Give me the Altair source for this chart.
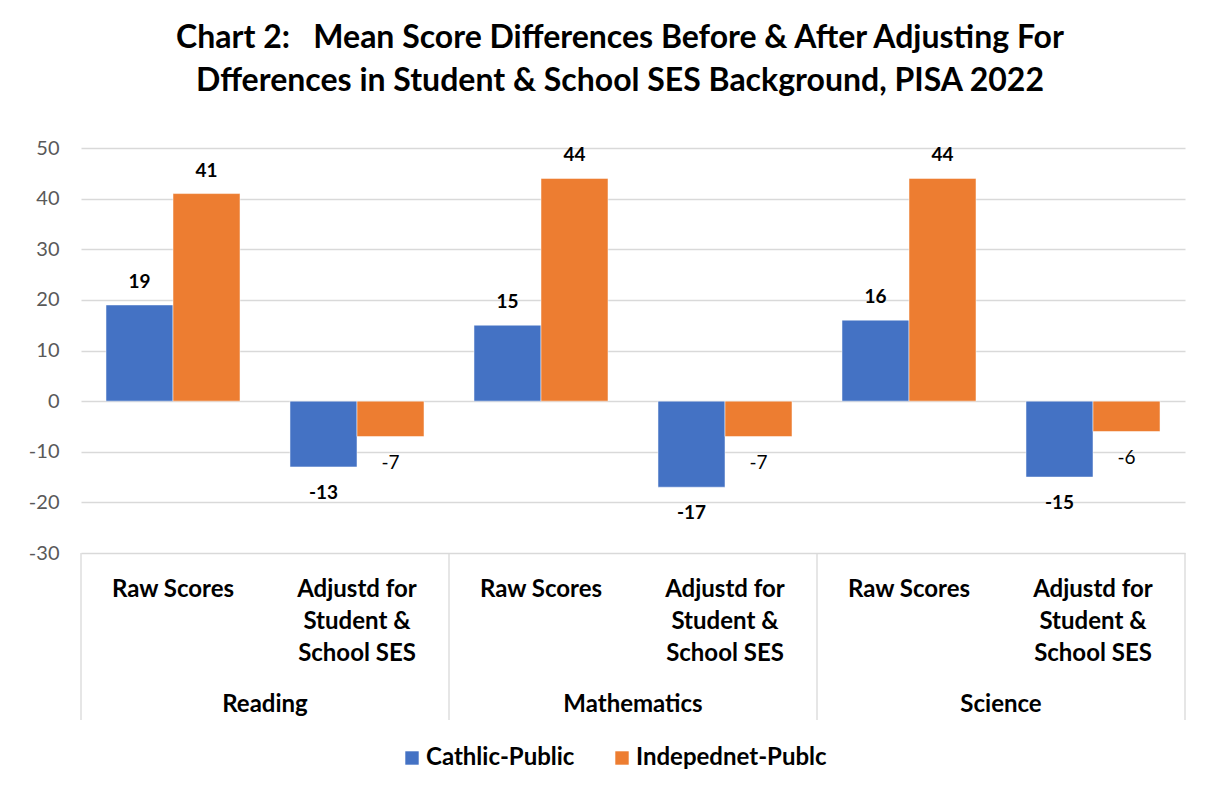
import altair as alt
import pandas as pd

subjects = ["Reading", "Mathematics", "Science"]
subcats = ["Raw Scores", "Adjustd for~Student &~School SES"]
series = ["Cathlic-Public", "Indepednet-Publc"]
cathlic = [19, -13, 15, -17, 16, -15]
indep = [41, -7, 44, -7, 44, -6]
y_ticks = [-30, -20, -10, 0, 10, 20, 30, 40, 50]
colors = ["#4472C4", "#ED7D31"]

keys = [f"{s}|{c}" for s in subjects for c in subcats]
rows = []
for i, k in enumerate(keys):
    rows.append({"key": k, "series": series[0], "value": cathlic[i]})
    rows.append({"key": k, "series": series[1], "value": indep[i]})
df = pd.DataFrame(rows)

groups = pd.DataFrame({"key": [f"{s}|{subcats[0]}" for s in subjects], "subject": subjects})
last = pd.DataFrame({"key": [keys[-1]]})

FONT = "Lato"
W, H = 1104, 405

x_enc = alt.X(
    "key:N", sort=keys,
    scale=alt.Scale(paddingInner=0, paddingOuter=0),
    axis=alt.Axis(
        title=None, domain=False, ticks=False, grid=False,
        labelExpr="split(split(datum.label, '|')[1], '~')",
        labelFont=FONT, labelFontSize=24, labelFontWeight="bold", labelColor="#000000",
        labelPadding=24, labelLineHeight=32, labelBaseline="top", labelAngle=0,
    ),
)
xo_enc = alt.XOffset("series:N", sort=series, scale=alt.Scale(paddingInner=0, paddingOuter=0.373))

y_enc = alt.Y(
    "value:Q",
    scale=alt.Scale(domain=[-30, 50], nice=False),
    axis=alt.Axis(
        title=None, values=y_ticks, domain=False, ticks=False,
        gridColor="#D9D9D9", gridWidth=1.3,
        labelExpr="'' + datum.value",
        labelFont=FONT, labelFontSize=20, labelColor="#595959", labelPadding=22,
    ),
)

base = alt.Chart(df).transform_calculate(label="'' + datum.value")

bars = base.mark_bar(stroke="white", strokeWidth=0.5).encode(
    x=x_enc, xOffset=xo_enc, y=y_enc, y2=alt.datum(0),
    color=alt.Color("series:N", sort=series, scale=alt.Scale(domain=series, range=colors),
                    legend=alt.Legend(title=None)),
)

pos_labels = base.transform_filter("datum.value >= 0").mark_text(
    font=FONT, fontSize=19, fontWeight="bold", color="#000000", dy=-23, baseline="middle"
).encode(x=x_enc, xOffset=xo_enc, y=y_enc, text=alt.Text("label:N"))

neg_c = base.transform_filter(f"datum.value < 0 && datum.series == '{series[0]}'").mark_text(
    font=FONT, fontSize=19, fontWeight="bold", color="#000000", dy=26, baseline="middle"
).encode(x=x_enc, xOffset=xo_enc, y=y_enc, text=alt.Text("label:N"))

neg_i = base.transform_filter(f"datum.value < 0 && datum.series == '{series[1]}'").mark_text(
    font=FONT, fontSize=19, fontWeight="normal", color="#000000", dy=26, baseline="middle"
).encode(x=x_enc, xOffset=xo_enc, y=y_enc, text=alt.Text("label:N"))

sep_rules = alt.Chart(groups).mark_rule(color="#D9D9D9", strokeWidth=1.3).encode(
    x=alt.X("key:N", sort=keys, bandPosition=0), y=alt.value(H), y2=alt.value(H + 167)
)
end_rule = alt.Chart(last).mark_rule(color="#D9D9D9", strokeWidth=1.3).encode(
    x=alt.X("key:N", sort=keys, bandPosition=1), y=alt.value(H), y2=alt.value(H + 167)
)
major = alt.Chart(groups).mark_text(
    font=FONT, fontSize=24, fontWeight="bold", color="#000000", baseline="middle"
).encode(
    x=alt.X("key:N", sort=keys, bandPosition=1), y=alt.value(H + 152), text="subject:N"
)

chart = alt.layer(bars, pos_labels, neg_c, neg_i, sep_rules, end_rule, major).properties(
    width=W, height=H,
    title=alt.TitleParams(
        text=["Chart 2:\u00a0\u00a0\u00a0Mean Score Differences Before & After Adjusting For",
              "Dfferences in Student & School SES Background, PISA 2022"],
        font=FONT, fontSize=32, fontWeight="bold", color="#000000",
        anchor="middle", dx=-13, offset=40, lineHeight=43,
    ),
    autosize=alt.AutoSizeParams(type="none"),
    padding={"left": 73, "top": 140, "right": 10, "bottom": 220},
).configure_view(stroke=None).configure_legend(
    orient="none", legendX=319, legendY=598, direction="horizontal",
    symbolType="square", symbolSize=180, symbolStrokeWidth=0,
    labelFont=FONT, labelFontSize=24, labelFontWeight="bold", labelColor="#000000",
    labelLimit=400, columnPadding=35, labelOffset=2, padding=0,
)

chart.save("out.html", embed_options={"renderer": "svg", "actions": False})
